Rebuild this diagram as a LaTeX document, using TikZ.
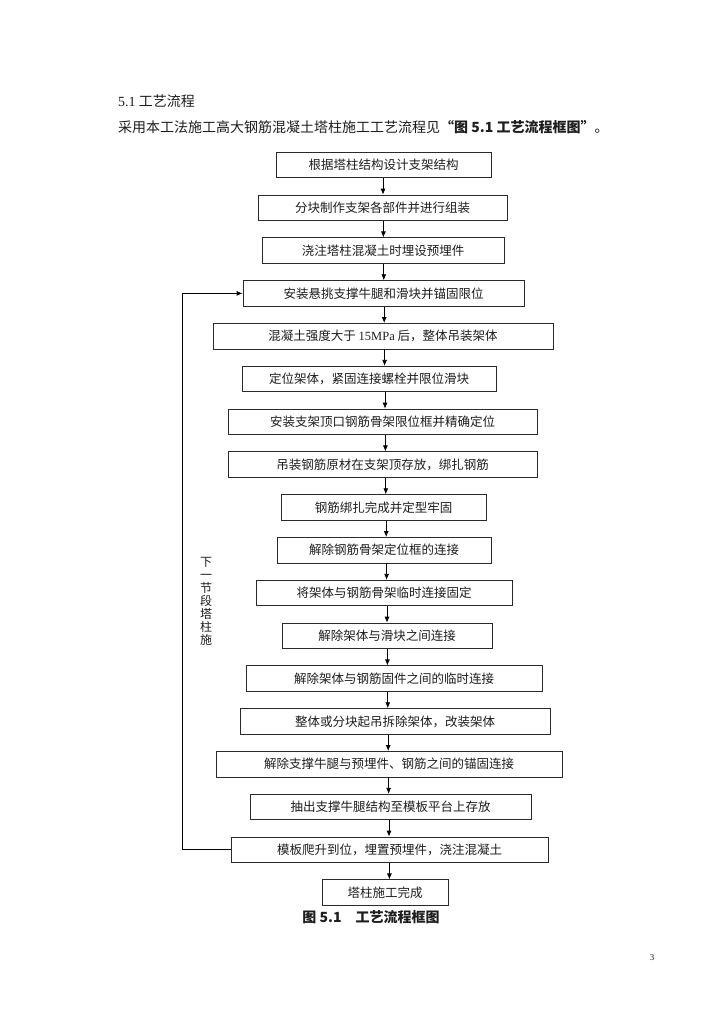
\documentclass[tikz,border=0pt]{standalone}
\usepackage{fontspec}
\setmainfont{Liberation Serif}
\newfontfamily\cjk{Noto Sans CJK SC}
\usepackage{tikz}
\usetikzlibrary{arrows.meta,positioning}
\definecolor{flink}{HTML}{1E1E1E}
\definecolor{flline}{HTML}{2A2A2A}
\newcommand{\boxfont}{\cjk\fontsize{12.5}{15}\selectfont}

\begin{document}
\begin{tikzpicture}[x=1pt,y=-1pt,
  box/.style={draw=flline,line width=0.8pt,minimum height=25.5pt,inner sep=0pt,font=\boxfont,text=flink},
  txt/.style={anchor=west,inner sep=0pt,font=\cjk\fontsize{14}{16}\selectfont,text=flink},
  side/.style={align=center,inner sep=0pt,font=\cjk\fontsize{12}{13}\selectfont,text=flink},
  arr/.style={-{Latex[length=6pt,width=5pt]},line width=0.8pt,color=black}]
  \path[use as bounding box,fill=white] (0,0) rectangle (724,1024);
  \node[txt] (head) at (118,101) {{\rmfamily 5.1} 工艺流程};
  \node[txt] (intro) at (118,127) {采用本工法施工高大钢筋混凝土塔柱施工工艺流程见{\bfseries “图 5.1\ 工艺流程框图”}。};
  \node[box,minimum width=215pt] (b1) at (383.5,165) {根据塔柱结构设计支架结构};
  \node[box,minimum width=249pt,below=16.5pt of b1,xshift=-1pt] (b2) {分块制作支架各部件并进行组装};
  \node[box,minimum width=242pt,below=16.5pt of b2,xshift=0.5pt] (b3) {浇注塔柱混凝土时埋设预埋件};
  \node[box,minimum width=281pt,below=16.5pt of b3,xshift=0.5pt] (b4) {安装悬挑支撑牛腿和滑块并锚固限位};
  \node[box,minimum width=340pt,below=16.5pt of b4,xshift=-0.5pt] (b5) {混凝土强度大于 {\rmfamily 15MPa} 后，整体吊装架体};
  \node[box,minimum width=254pt,below=16.5pt of b5,xshift=-14pt] (b6) {定位架体，紧固连接螺栓并限位滑块};
  \node[box,minimum width=309pt,below=16.5pt of b6,xshift=13.5pt] (b7) {安装支架顶口钢筋骨架限位框并精确定位};
  \node[box,minimum width=309pt,below=16.5pt of b7] (b8) {吊装钢筋原材在支架顶存放，绑扎钢筋};
  \node[box,minimum width=205pt,below=16.5pt of b8,xshift=1pt] (b9) {钢筋绑扎完成并定型牢固};
  \node[box,minimum width=214pt,below=16.5pt of b9,xshift=0.5pt] (b10) {解除钢筋骨架定位框的连接};
  \node[box,minimum width=256pt,below=16.5pt of b10] (b11) {将架体与钢筋骨架临时连接固定};
  \node[box,minimum width=210pt,below=16.5pt of b11,xshift=3pt] (b12) {解除架体与滑块之间连接};
  \node[box,minimum width=296pt,below=16.5pt of b12,xshift=7pt] (b13) {解除架体与钢筋固件之间的临时连接};
  \node[box,minimum width=310pt,below=16.5pt of b13,xshift=1pt] (b14) {整体或分块起吊拆除架体，改装架体};
  \node[box,minimum width=346pt,below=16.5pt of b14,xshift=-6pt] (b15) {解除支撑牛腿与预埋件、钢筋之间的锚固连接};
  \node[box,minimum width=281pt,below=16.5pt of b15,xshift=1.5pt] (b16) {抽出支撑牛腿结构至模板平台上存放};
  \node[box,minimum width=317pt,below=16.5pt of b16,xshift=-1pt] (b17) {模板爬升到位，埋置预埋件，浇注混凝土};
  \node[box,minimum width=126pt,below=16.5pt of b17,xshift=-4.5pt] (b18) {塔柱施工完成};
  \node[side] (back) at (206,601) {下\\一\\节\\段\\塔\\柱\\施};
  \node[inner sep=0pt,font=\cjk\bfseries\fontsize{14}{16}\selectfont,text=flink] (cap) at (371,917) {图 5.1\quad 工艺流程框图};
  \node[inner sep=0pt,font=\rmfamily\fontsize{9}{10}\selectfont,text=flink] (pg) at (652,958) {3};
  % main flow
  \foreach \i [evaluate=\i as \j using int(\i+1)] in {1,...,17} {
    \coordinate (ax) at ({383+0.4*(\i-1)},0);
    \draw[arr] (b\i.south -| ax) -- (b\j.north -| ax);
  }
  % next segment loop
  \coordinate (fb) at (182,0);
  \draw[arr] (b17.west) -- (b17.west -| fb) |- (b4.west);
\end{tikzpicture}
\end{document}
